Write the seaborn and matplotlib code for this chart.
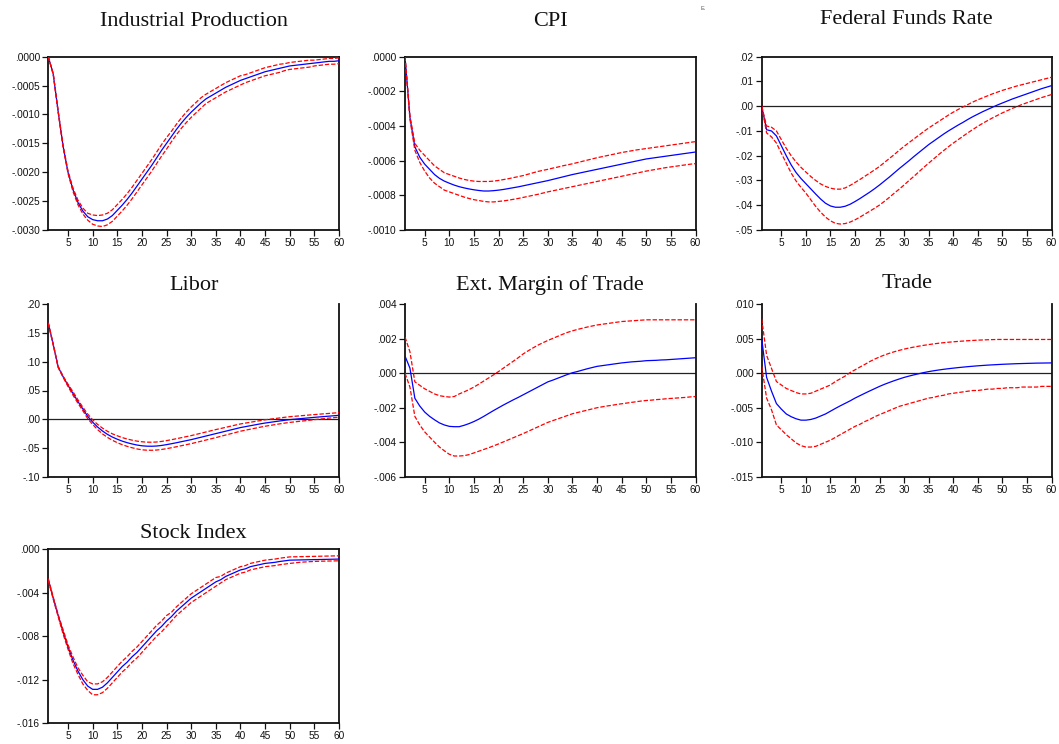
import matplotlib
matplotlib.use("Agg")
import matplotlib.pyplot as plt
import seaborn as sns
import pandas as pd
from matplotlib.ticker import FuncFormatter, FixedLocator

periods = list(range(1, 61))

# ---------------- Industrial Production ----------------
ip_mid = [0, -0.00030, -0.00095, -0.00155, -0.00200, -0.00230, -0.00252, -0.00267, -0.00277, -0.00282,
          -0.00284, -0.00284, -0.00281, -0.00275, -0.00266, -0.00257, -0.00247, -0.00236, -0.00224, -0.00212,
          -0.00200, -0.00188, -0.00175, -0.00162, -0.00150, -0.00138, -0.00126, -0.00115, -0.00105, -0.00096,
          -0.00088, -0.00080, -0.00073, -0.00068, -0.00063, -0.00058, -0.00053, -0.00049, -0.00045, -0.00041,
          -0.00038, -0.00035, -0.00032, -0.00029, -0.00026, -0.00024, -0.00022, -0.00020, -0.00018, -0.00016,
          -0.00015, -0.00014, -0.00013, -0.00012, -0.00011, -0.00010, -0.00009, -0.00008, -0.00008, -0.00007]
ip_up = [0, -0.00029, -0.00094, -0.00153, -0.00198, -0.00227, -0.00248, -0.00262, -0.00271, -0.00274,
         -0.00275, -0.00274, -0.00271, -0.00265, -0.00256, -0.00247, -0.00237, -0.00226, -0.00214, -0.00202,
         -0.00190, -0.00178, -0.00165, -0.00152, -0.00140, -0.00129, -0.00117, -0.00106, -0.00096, -0.00087,
         -0.00079, -0.00071, -0.00065, -0.00060, -0.00055, -0.00050, -0.00045, -0.00041, -0.00037, -0.00033,
         -0.00031, -0.00028, -0.00025, -0.00022, -0.00019, -0.00017, -0.00015, -0.00013, -0.00012, -0.00010,
         -0.00009, -0.00008, -0.00007, -0.00006, -0.00006, -0.00005, -0.00004, -0.00003, -0.00003, -0.00002]
ip_lo = [0, -0.00031, -0.00096, -0.00157, -0.00202, -0.00233, -0.00256, -0.00272, -0.00283, -0.00290,
         -0.00293, -0.00294, -0.00291, -0.00285, -0.00276, -0.00267, -0.00257, -0.00246, -0.00234, -0.00222,
         -0.00210, -0.00198, -0.00185, -0.00172, -0.00160, -0.00147, -0.00135, -0.00124, -0.00114, -0.00105,
         -0.00097, -0.00089, -0.00081, -0.00076, -0.00071, -0.00066, -0.00061, -0.00057, -0.00053, -0.00049,
         -0.00045, -0.00042, -0.00039, -0.00036, -0.00033, -0.00031, -0.00029, -0.00027, -0.00024, -0.00022,
         -0.00021, -0.00020, -0.00019, -0.00018, -0.00016, -0.00015, -0.00014, -0.00013, -0.00013, -0.00012]

# ---------------- CPI ----------------
cpi_mid = [0, -0.00035, -0.00052, -0.00058, -0.00062, -0.00065, -0.00068, -0.000702, -0.000718, -0.00073,
           -0.000741, -0.00075, -0.000757, -0.000763, -0.000768, -0.000772, -0.000775, -0.000775, -0.000773, -0.00077,
           -0.000766, -0.000761, -0.000756, -0.000751, -0.000745, -0.000739, -0.000733, -0.000727, -0.000721, -0.000715,
           -0.000708, -0.000701, -0.000694, -0.000687, -0.00068, -0.000674, -0.000668, -0.000662, -0.000656, -0.00065,
           -0.000644, -0.000638, -0.000632, -0.000626, -0.00062, -0.000614, -0.000608, -0.000602, -0.000596, -0.00059,
           -0.000586, -0.000582, -0.000578, -0.000574, -0.00057, -0.000566, -0.000562, -0.000558, -0.000554, -0.00055]
cpi_up = [0, -0.00034, -0.00050, -0.00054, -0.00057, -0.00060, -0.00063, -0.00065, -0.00067, -0.00068,
          -0.00069, -0.000700, -0.000708, -0.000714, -0.000718, -0.00072, -0.00072, -0.00072, -0.000718, -0.000714,
          -0.000709, -0.000704, -0.000698, -0.000692, -0.000686, -0.000678, -0.00067, -0.000662, -0.000656, -0.00065,
          -0.000643, -0.000637, -0.00063, -0.000624, -0.000618, -0.000611, -0.000604, -0.000597, -0.00059, -0.000583,
          -0.000577, -0.000571, -0.000565, -0.000559, -0.000553, -0.000548, -0.000543, -0.000538, -0.000534, -0.00053,
          -0.000526, -0.000522, -0.000518, -0.000514, -0.00051, -0.000506, -0.000502, -0.000498, -0.000494, -0.00049]
cpi_lo = [0, -0.00036, -0.00054, -0.00061, -0.00066, -0.00070, -0.00073, -0.00075, -0.00077, -0.00078,
          -0.00079, -0.000800, -0.00081, -0.000818, -0.000825, -0.00083, -0.000835, -0.000838, -0.000838, -0.000835,
          -0.000832, -0.000828, -0.000823, -0.000818, -0.000812, -0.000806, -0.0008, -0.000794, -0.000787, -0.00078,
          -0.000774, -0.000768, -0.000762, -0.000756, -0.00075, -0.000744, -0.000738, -0.000732, -0.000726, -0.00072,
          -0.000714, -0.000708, -0.000702, -0.000696, -0.00069, -0.000684, -0.000678, -0.000672, -0.000666, -0.00066,
          -0.000655, -0.00065, -0.000645, -0.00064, -0.000636, -0.000632, -0.000628, -0.000624, -0.00062, -0.000617]

# ---------------- Federal Funds Rate ----------------
ffr_mid = [0.0, -0.0095, -0.0100, -0.0120, -0.0160, -0.0200, -0.0237, -0.0268, -0.0292, -0.0313,
           -0.0334, -0.0355, -0.0375, -0.0392, -0.0403, -0.0408, -0.0408, -0.0404, -0.0396, -0.0385,
           -0.0373, -0.0360, -0.0347, -0.0333, -0.0318, -0.0302, -0.0286, -0.0269, -0.0252, -0.0236,
           -0.0220, -0.0203, -0.0187, -0.0171, -0.0155, -0.0141, -0.0127, -0.0113, -0.0100, -0.0088,
           -0.0076, -0.0065, -0.0053, -0.0042, -0.0032, -0.0022, -0.0013, -0.0004, 0.0005, 0.0013,
           0.0021, 0.0029, 0.0036, 0.0043, 0.0050, 0.0057, 0.0064, 0.0071, 0.0077, 0.0083]
ffr_up = [0.0, -0.0080, -0.0085, -0.0100, -0.0135, -0.0170, -0.0200, -0.0225, -0.0247, -0.0266,
          -0.0284, -0.0300, -0.0314, -0.0324, -0.0331, -0.0335, -0.0335, -0.0330, -0.0320, -0.0308,
          -0.0296, -0.0283, -0.0270, -0.0257, -0.0243, -0.0227, -0.0211, -0.0195, -0.0178, -0.0162,
          -0.0147, -0.0132, -0.0117, -0.0102, -0.0088, -0.0075, -0.0062, -0.0049, -0.0036, -0.0024,
          -0.0013, -0.0003, 0.0007, 0.0017, 0.0026, 0.0034, 0.0042, 0.0050, 0.0057, 0.0064,
          0.0070, 0.0076, 0.0082, 0.0087, 0.0092, 0.0097, 0.0102, 0.0107, 0.0112, 0.0117]
ffr_lo = [0.0, -0.0108, -0.0124, -0.0149, -0.0190, -0.0230, -0.0270, -0.0302, -0.0328, -0.0351,
          -0.0378, -0.0405, -0.0428, -0.0448, -0.0463, -0.0473, -0.0476, -0.0474, -0.0468, -0.0459,
          -0.0448, -0.0436, -0.0424, -0.0412, -0.0399, -0.0384, -0.0368, -0.0351, -0.0335, -0.0318,
          -0.0300, -0.0283, -0.0265, -0.0247, -0.0230, -0.0213, -0.0196, -0.0180, -0.0164, -0.0149,
          -0.0135, -0.0121, -0.0107, -0.0094, -0.0081, -0.0069, -0.0058, -0.0047, -0.0037, -0.0027,
          -0.0018, -0.0009, -0.0001, 0.0007, 0.0014, 0.0021, 0.0028, 0.0035, 0.0041, 0.0047]

# ---------------- Libor ----------------
libor_mid = [0.167, 0.130, 0.091, 0.074, 0.059, 0.045, 0.031, 0.018, 0.005, -0.005,
             -0.0135, -0.0205, -0.0263, -0.031, -0.0348, -0.0381, -0.0408, -0.043, -0.0449, -0.0462,
             -0.0469, -0.047, -0.0466, -0.0456, -0.0442, -0.0426, -0.0409, -0.0391, -0.0373, -0.0355,
             -0.0334, -0.0313, -0.0292, -0.0271, -0.025, -0.0229, -0.0208, -0.0187, -0.0166, -0.0145,
             -0.0129, -0.0113, -0.0097, -0.0081, -0.0066, -0.0054, -0.0042, -0.0030, -0.0018, -0.0007,
             0.0001, 0.0009, 0.0017, 0.0025, 0.0033, 0.0040, 0.0047, 0.0054, 0.0061, 0.0068]
libor_up = [0.168, 0.131, 0.092, 0.075, 0.061, 0.048, 0.034, 0.021, 0.009, -0.001,
            -0.009, -0.0155, -0.021, -0.0254, -0.0288, -0.0319, -0.0344, -0.0364, -0.0381, -0.0392,
            -0.0399, -0.040, -0.0396, -0.0386, -0.0372, -0.0356, -0.0339, -0.0321, -0.0303, -0.0285,
            -0.0264, -0.0243, -0.0222, -0.0201, -0.018, -0.0161, -0.0141, -0.0121, -0.0101, -0.0082,
            -0.0067, -0.0053, -0.0038, -0.0024, -0.0010, 0.0001, 0.0012, 0.0023, 0.0034, 0.0044,
            0.0051, 0.0059, 0.0066, 0.0074, 0.0081, 0.0088, 0.0095, 0.0101, 0.0108, 0.0115]
libor_lo = [0.166, 0.129, 0.090, 0.073, 0.057, 0.042, 0.028, 0.015, 0.001, -0.009,
            -0.018, -0.0255, -0.0316, -0.0366, -0.0408, -0.0443, -0.0472, -0.0496, -0.0517, -0.0532,
            -0.0539, -0.054, -0.0536, -0.0526, -0.0512, -0.0496, -0.0479, -0.0461, -0.0443, -0.0425,
            -0.0404, -0.0383, -0.0362, -0.0341, -0.032, -0.0297, -0.0275, -0.0253, -0.0231, -0.0208,
            -0.0191, -0.0173, -0.0156, -0.0138, -0.0122, -0.0108, -0.0094, -0.0080, -0.0067, -0.0055,
            -0.0046, -0.0036, -0.0027, -0.0018, -0.0007, 0.0002, 0.0011, 0.0020, 0.0028, 0.0035]

# ---------------- Ext. Margin of Trade ----------------
ext_mid = [0.0010, 0.0003, -0.00145, -0.0019, -0.00225, -0.0025, -0.0027, -0.00288, -0.0030, -0.00308,
           -0.0031, -0.0031, -0.00302, -0.00292, -0.0028, -0.00266, -0.0025, -0.00233, -0.00216, -0.0020,
           -0.00184, -0.00169, -0.00154, -0.0014, -0.00125, -0.0011, -0.00095, -0.0008, -0.00065, -0.0005,
           -0.0004, -0.00029, -0.00018, -0.00007, 0.00003, 0.0001, 0.00018, 0.00026, 0.00033, 0.0004,
           0.00044, 0.00048, 0.00052, 0.00056, 0.0006, 0.00063, 0.00066, 0.00068, 0.0007, 0.00073,
           0.00074, 0.00075, 0.00077, 0.00078, 0.0008, 0.00082, 0.00084, 0.00086, 0.00088, 0.0009]
ext_up = [0.0021, 0.00125, -0.0005, -0.0007, -0.0009, -0.00105, -0.0012, -0.0013, -0.00135, -0.00138,
          -0.00135, -0.0012, -0.00108, -0.00095, -0.0008, -0.00063, -0.00045, -0.00027, -0.00009, 0.0001,
          0.0003, 0.0005, 0.0007, 0.0009, 0.00112, 0.0013, 0.00147, 0.00163, 0.00177, 0.0019,
          0.00202, 0.00214, 0.00226, 0.00237, 0.00246, 0.00254, 0.00261, 0.00268, 0.00274, 0.0028,
          0.00284, 0.00288, 0.00292, 0.00296, 0.0030, 0.00302, 0.00304, 0.00306, 0.00308, 0.0031,
          0.0031, 0.0031, 0.0031, 0.0031, 0.0031, 0.0031, 0.0031, 0.0031, 0.0031, 0.0031]
ext_lo = [0.0, -0.0008, -0.0025, -0.0030, -0.0034, -0.0037, -0.0040, -0.00428, -0.0045, -0.0047,
          -0.0048, -0.0048, -0.00478, -0.00472, -0.00462, -0.00452, -0.00442, -0.00432, -0.00421, -0.0041,
          -0.00398, -0.00386, -0.00374, -0.00362, -0.0035, -0.00337, -0.00324, -0.00311, -0.00298, -0.00285,
          -0.00275, -0.00265, -0.00255, -0.00245, -0.00235, -0.00228, -0.00221, -0.00214, -0.00207, -0.0020,
          -0.00195, -0.0019, -0.00186, -0.00181, -0.00177, -0.00173, -0.00169, -0.00165, -0.00161, -0.00158,
          -0.00156, -0.00153, -0.00151, -0.00148, -0.00146, -0.00144, -0.00142, -0.0014, -0.00137, -0.00135]

# ---------------- Trade ----------------
trade_mid = [0.0050, -0.0006, -0.0026, -0.0044, -0.0052, -0.0059, -0.0063, -0.0066, -0.0068, -0.0068,
             -0.0067, -0.0065, -0.0062, -0.0059, -0.0055, -0.0051, -0.00472, -0.00436, -0.0040, -0.0036,
             -0.00325, -0.0029, -0.00256, -0.00223, -0.0019, -0.0016, -0.00133, -0.00107, -0.00083, -0.0006,
             -0.00041, -0.00023, -0.00006, 0.0001, 0.00024, 0.00036, 0.00047, 0.00057, 0.00066, 0.00074,
             0.00082, 0.00089, 0.00096, 0.00102, 0.00108, 0.00113, 0.00118, 0.00122, 0.00126, 0.0013,
             0.00133, 0.00136, 0.00139, 0.00141, 0.00143, 0.00145, 0.00147, 0.00148, 0.00149, 0.0015]
trade_up = [0.0079, 0.0026, 0.0007, -0.0012, -0.0017, -0.0022, -0.0025, -0.0028, -0.0030, -0.0030,
            -0.0029, -0.0026, -0.0023, -0.0020, -0.0017, -0.0012, -0.0008, -0.0004, 0.0001, 0.0005,
            0.0009, 0.00128, 0.0017, 0.00205, 0.00237, 0.00265, 0.0029, 0.00312, 0.00332, 0.0035,
            0.00366, 0.0038, 0.00393, 0.00405, 0.00416, 0.00426, 0.00435, 0.00443, 0.0045, 0.00456,
            0.00462, 0.00467, 0.00472, 0.00476, 0.0048, 0.00483, 0.00486, 0.00488, 0.0049, 0.0049,
            0.0049, 0.0049, 0.0049, 0.0049, 0.0049, 0.0049, 0.0049, 0.0049, 0.0049, 0.0049]
trade_lo = [0.0010, -0.0036, -0.0053, -0.0075, -0.0082, -0.0089, -0.0095, -0.0101, -0.0105, -0.0107,
            -0.0107, -0.0106, -0.0103, -0.0100, -0.0097, -0.0093, -0.0089, -0.0085, -0.0081, -0.0077,
            -0.0074, -0.0070, -0.0067, -0.0063, -0.0060, -0.0057, -0.0054, -0.0051, -0.0048, -0.0046,
            -0.0044, -0.0042, -0.0040, -0.0038, -0.0036, -0.0035, -0.0033, -0.0032, -0.0030, -0.0029,
            -0.0028, -0.0027, -0.0026, -0.0025, -0.0025, -0.0024, -0.0023, -0.0023, -0.0022, -0.0022,
            -0.0021, -0.0021, -0.0021, -0.0020, -0.0020, -0.0020, -0.0020, -0.0019, -0.0019, -0.0019]

# ---------------- Stock Index ----------------
stock_mid = [-0.0028, -0.0045, -0.0061, -0.0076, -0.0090, -0.0102, -0.0112, -0.0120, -0.0126, -0.0129,
             -0.0129, -0.0127, -0.0123, -0.0118, -0.0113, -0.0108, -0.0104, -0.0099, -0.0095, -0.0090,
             -0.0085, -0.0080, -0.0075, -0.0071, -0.0066, -0.0062, -0.0057, -0.0053, -0.0049, -0.0045,
             -0.0042, -0.0039, -0.0036, -0.0033, -0.0030, -0.0028, -0.0025, -0.0023, -0.0021, -0.0019,
             -0.0018, -0.0016, -0.0015, -0.0014, -0.0013, -0.00125, -0.0012, -0.00112, -0.00106, -0.0010,
             -0.00099, -0.00098, -0.00097, -0.00096, -0.00095, -0.00094, -0.00093, -0.00092, -0.00091, -0.0009]
stock_up = [-0.0027, -0.0044, -0.0060, -0.0074, -0.0088, -0.0099, -0.0109, -0.0116, -0.0122, -0.0124,
            -0.0124, -0.0122, -0.0118, -0.0113, -0.0108, -0.0103, -0.0099, -0.0094, -0.0090, -0.0085,
            -0.0080, -0.0075, -0.0070, -0.0066, -0.0061, -0.0058, -0.0053, -0.0049, -0.0045, -0.0041,
            -0.0038, -0.0035, -0.0032, -0.0029, -0.0026, -0.0025, -0.0022, -0.0020, -0.0018, -0.0016,
            -0.0015, -0.0013, -0.0012, -0.0011, -0.0010, -0.00095, -0.0009, -0.00082, -0.00076, -0.0007,
            -0.00069, -0.00068, -0.00067, -0.00066, -0.00065, -0.00064, -0.00063, -0.00062, -0.00061, -0.0006]
stock_lo = [-0.0029, -0.0046, -0.0062, -0.0078, -0.0092, -0.0105, -0.0115, -0.0124, -0.0130, -0.0134,
            -0.0134, -0.0132, -0.0128, -0.0123, -0.0118, -0.0113, -0.0109, -0.0104, -0.0100, -0.0095,
            -0.0090, -0.0085, -0.0080, -0.0076, -0.0071, -0.0066, -0.0061, -0.0057, -0.0053, -0.0049,
            -0.0046, -0.0043, -0.0040, -0.0037, -0.0034, -0.0031, -0.0028, -0.0026, -0.0024, -0.0022,
            -0.0021, -0.0019, -0.0018, -0.0017, -0.0016, -0.00155, -0.0015, -0.00142, -0.00136, -0.0013,
            -0.00125, -0.0012, -0.00117, -0.00114, -0.00112, -0.0011, -0.00109, -0.00108, -0.00107, -0.00106]

titles = ["Industrial Production", "CPI", "Federal Funds Rate", "Libor",
          "Ext. Margin of Trade", "Trade", "Stock Index"]
x_ticks = [5, 10, 15, 20, 25, 30, 35, 40, 45, 50, 55, 60]
y_ticks = [
    [-0.0030, -0.0025, -0.0020, -0.0015, -0.0010, -0.0005, 0.0],
    [-0.0010, -0.0008, -0.0006, -0.0004, -0.0002, 0.0],
    [-0.05, -0.04, -0.03, -0.02, -0.01, 0.0, 0.01, 0.02],
    [-0.10, -0.05, 0.0, 0.05, 0.10, 0.15, 0.20],
    [-0.006, -0.004, -0.002, 0.0, 0.002, 0.004],
    [-0.015, -0.010, -0.005, 0.0, 0.005, 0.010],
    [-0.016, -0.012, -0.008, -0.004, 0.0],
]
decimals = [4, 4, 2, 2, 3, 3, 3]
series = [(ip_mid, ip_up, ip_lo), (cpi_mid, cpi_up, cpi_lo), (ffr_mid, ffr_up, ffr_lo),
          (libor_mid, libor_up, libor_lo), (ext_mid, ext_up, ext_lo),
          (trade_mid, trade_up, trade_lo), (stock_mid, stock_up, stock_lo)]

sns.set_theme(style="white")
plt.rcParams['font.family'] = ['Liberation Sans', 'DejaVu Sans']

fig = plt.figure(figsize=(10.59, 7.44), dpi=100)
W, H = 1059.0, 744.0
cols = [(48.3, 339.0), (405.0, 695.5), (761.7, 1051.5)]
rows = [(56.7, 230.0), (304.3, 476.7), (549.3, 723.0)]
title_y = [22, 22, 20, 286, 285, 283, 534]


def make_fmt(d):
    def f(v, pos):
        s = f"{v:.{d}f}"
        if s.startswith("-0."):
            s = "-" + s[2:]
        elif s.startswith("0."):
            s = s[1:]
        if s.replace("-", "").strip(".0") == "":
            s = "." + "0" * d
        return s
    return FuncFormatter(f)


for i, (title, (mid, up, lo)) in enumerate(zip(titles, series)):
    r, c = divmod(i, 3)
    (x0, x1), (y0, y1) = cols[c], rows[r]
    ax = fig.add_axes([x0 / W, 1 - y1 / H, (x1 - x0) / W, (y1 - y0) / H])
    yt = y_ticks[i]
    if yt[0] < 0 < yt[-1]:
        ax.axhline(0, color="#222222", lw=0.9, zorder=1)
    df = pd.DataFrame({"period": periods, "mid": mid, "up": up, "lo": lo})
    sns.lineplot(data=df, x="period", y="mid", ax=ax, color="#0000FF", lw=0.9, zorder=3)
    sns.lineplot(data=df, x="period", y="up", ax=ax, color="#FF0000", lw=0.9,
                 linestyle=(0, (3.5, 1.5)), zorder=4)
    sns.lineplot(data=df, x="period", y="lo", ax=ax, color="#FF0000", lw=0.9,
                 linestyle=(0, (3.5, 1.5)), zorder=4)
    ax.set_xlim(1, 60)
    ax.set_ylim(yt[0], yt[-1])
    ax.xaxis.set_major_locator(FixedLocator(x_ticks))
    ax.yaxis.set_major_locator(FixedLocator(yt))
    ax.yaxis.set_major_formatter(make_fmt(decimals[i]))
    ax.set_xlabel("")
    ax.set_ylabel("")
    ax.tick_params(axis="both", which="major", direction="out", length=4, width=0.9,
                   labelsize=7.3, pad=2, colors="#111111", left=True, bottom=True)
    for side in ["left", "right", "bottom", "top"]:
        ax.spines[side].set_color("#111111")
        ax.spines[side].set_linewidth(1.3)
    if r == 1:
        ax.spines["top"].set_visible(False)
    fig.text((x0 + x1) / 2 / W, 1 - title_y[i] / H, title, ha="center", va="center",
             fontsize=16, family=["Liberation Serif", "DejaVu Serif"], color="#111111")

fig.text(703 / W, 1 - 9 / H, "E.", fontsize=4, color="#555555", ha="center", va="center")

fig.savefig("out.png", dpi=100)
